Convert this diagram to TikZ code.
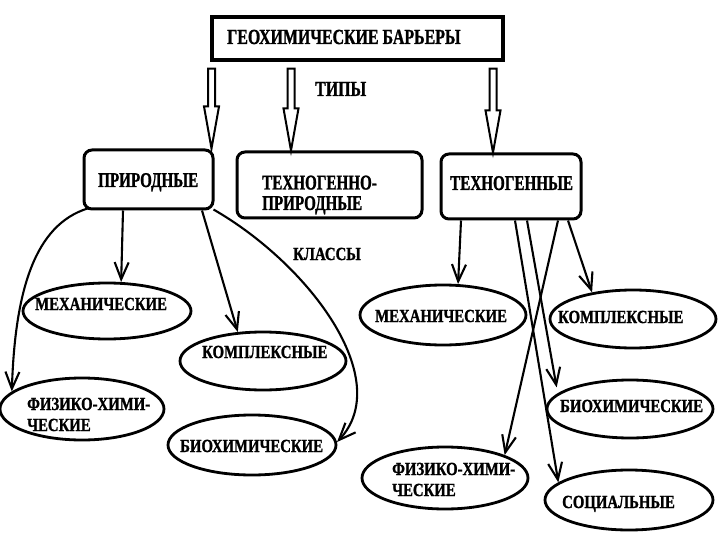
\documentclass[tikz,border=0pt]{standalone}
\usepackage{fontspec}
\setmainfont{Liberation Serif}
\newfontfamily\bigf[FakeStretch=0.72,FakeBold=1.2]{LiberationSerif-Bold.ttf}
\newfontfamily\topf[FakeStretch=0.74,FakeBold=1.2]{LiberationSerif-Bold.ttf}
\newfontfamily\smf[FakeStretch=0.8,FakeBold=1.2]{LiberationSerif-Bold.ttf}
\usetikzlibrary{shapes.geometric,arrows.meta,calc}
\tikzset{
  topbox/.style={draw, line width=3.2pt, inner sep=0},
  typebox/.style={draw, line width=3pt, rounded corners=8pt, inner sep=0},
  ell/.style={draw, ellipse, line width=2.8pt, inner sep=0},
  bigtxt/.style={font=\bigf\fontsize{21}{20.5}\selectfont, inner sep=0, align=left, anchor=base west},
  toptxt/.style={font=\topf\fontsize{21.5}{21}\selectfont, inner sep=0, anchor=base west},
  smtxt/.style={font=\smf\fontsize{18.5}{21}\selectfont, inner sep=0, align=left, anchor=base west},
  conn/.style={line width=2.1pt, -{Straight Barb[length=17pt,width=14pt]}},
  hollow/.style={fill=white, draw, line width=2pt,
    to path={let \p1=(\tikztostart), \p2=(\tikztotarget) in
      (\x1-3.5pt,\y1) -- (\x1+3.5pt,\y1) -- (\x1+3.5pt,\y2+42pt) -- (\x1+7.5pt,\y2+42pt)
      -- (\x1,\y2) -- (\x1-7.5pt,\y2+42pt) -- (\x1-3.5pt,\y2+42pt) -- cycle}}
}
\begin{document}
\begin{tikzpicture}[x=1pt,y=-1pt]
\useasboundingbox[fill=white] (0,0) rectangle (720,540);

% top
\node[topbox, minimum width=291pt, minimum height=43pt] (top) at (357.5,38.5) {};
\node[toptxt] (toplbl) at (227,44) {ГЕОХИМИЧЕСКИЕ БАРЬЕРЫ};
\node[toptxt] (types) at (315,96) {ТИПЫ};

% type boxes
\node[typebox, minimum width=129pt, minimum height=59pt] (prir) at (148.5,179.5) {};
\node[bigtxt] (prirt) at (98,187) {ПРИРОДНЫЕ};
\node[typebox, minimum width=185pt, minimum height=66pt] (tp) at (329.5,185) {};
\node[bigtxt] (tpt) at (262,210) {ТЕХНОГЕННО-\\ПРИРОДНЫЕ};
\node[typebox, minimum width=140pt, minimum height=65pt] (tg) at (511,186.5) {};
\node[bigtxt] (tgt) at (450,190) {ТЕХНОГЕННЫЕ};

% hollow arrows
\draw[hollow] ([xshift=-146pt,yshift=-7pt]top.south) to (prir.north);
\draw[hollow] ([xshift=-66.5pt,yshift=-7pt]top.south) to (tp.north);
\draw[hollow] ([xshift=135.5pt,yshift=-7pt]top.south) to (tg.north);

\node[smtxt] (cls) at (293,260) {КЛАССЫ};

% left ellipses
\node[ell, minimum width=168pt, minimum height=56pt] (lm) at (107,311) {};
\node[smtxt] (lmt) at (35,310) {МЕХАНИЧЕСКИЕ};
\node[ell, minimum width=166pt, minimum height=58pt] (lk) at (263,361) {};
\node[smtxt] (lkt) at (202,358) {КОМПЛЕКСНЫЕ};
\node[ell, minimum width=164pt, minimum height=62pt] (lf) at (82,409) {};
\node[smtxt] (lft) at (27,431) {ФИЗИКО-ХИМИ-\\ЧЕСКИЕ};
\node[ell, minimum width=168pt, minimum height=60pt] (lb) at (252,445) {};
\node[smtxt] (lbt) at (180,452) {БИОХИМИЧЕСКИЕ};

% right ellipses
\node[ell, minimum width=166pt, minimum height=60pt] (rm) at (443,315) {};
\node[smtxt] (rmt) at (375,322) {МЕХАНИЧЕСКИЕ};
\node[ell, minimum width=166pt, minimum height=58pt] (rk) at (633,319) {};
\node[smtxt] (rkt) at (558,323) {КОМПЛЕКСНЫЕ};
\node[ell, minimum width=166pt, minimum height=58pt] (rb) at (630,409) {};
\node[smtxt] (rbt) at (560,412) {БИОХИМИЧЕСКИЕ};
\node[ell, minimum width=166pt, minimum height=62pt] (rf) at (445,478) {};
\node[smtxt] (rft) at (392,496) {ФИЗИКО-ХИМИ-\\ЧЕСКИЕ};
\node[ell, minimum width=168pt, minimum height=60pt] (rs) at (629,500) {};
\node[smtxt] (rst) at (562,508) {СОЦИАЛЬНЫЕ};

% connectors from ПРИРОДНЫЕ
\draw[conn] ([xshift=-25.5pt]prir.south) -- (lm.64);
\draw[conn] ([xshift=53.5pt]prir.south) -- (lk.131);
\draw[conn] ([xshift=5pt,yshift=2pt]prir.south west) .. controls (35,225) and (15,290) .. (lf.166);
\draw[conn] ([xshift=-1pt,yshift=1pt]prir.south east) .. controls (310,265) and (395,380) .. (lb.2);

% connectors from ТЕХНОГЕННЫЕ
\draw[conn] ([xshift=-50pt]tg.south) -- (rm.64);
\draw[conn] ([xshift=4pt]tg.south) -- (rs.166);
\draw[conn] ([xshift=16pt]tg.south) -- ([xshift=-14pt]rb.160);
\draw[conn] ([xshift=47pt]tg.south) -- (rf.21);
\draw[conn] ([xshift=57pt]tg.south) -- (rk.147);
\end{tikzpicture}
\end{document}
